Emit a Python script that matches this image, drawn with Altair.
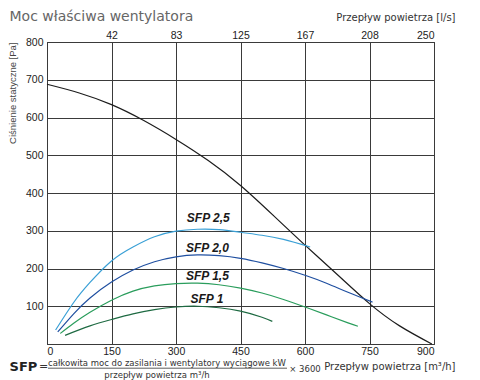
import altair as alt
import pandas as pd

# ---- data ----
x_ticks = [0, 150, 300, 450, 600, 750, 900]           # m3/h
ls_tick_labels = ["", "42", "83", "125", "167", "208", "250"]  # l/s
y_ticks = [100, 200, 300, 400, 500, 600, 700, 800]

fan_q = [0, 75, 150, 225, 300, 375, 450, 525, 600, 675, 750, 820, 895]
fan_p = [688, 665, 634, 592, 542, 486, 420, 342, 262, 184, 107, 48, 0]

sfp25_q = [20, 62, 100, 150, 200, 250, 300, 350, 400, 450, 500, 550, 612]
sfp25_p = [37, 110, 163, 220, 257, 284, 299, 304, 303, 296, 288, 277, 257]

sfp20_q = [25, 62, 100, 150, 200, 250, 300, 350, 400, 450, 500, 550, 600, 650, 700, 757]
sfp20_p = [32, 80, 122, 164, 196, 218, 231, 236, 234, 227, 215, 200, 182, 161, 137, 111]

sfp15_q = [31, 62, 100, 150, 200, 250, 300, 350, 400, 450, 500, 550, 600, 650, 700, 723]
sfp15_p = [28, 55, 84, 116, 140, 154, 160, 161, 157, 148, 135, 118, 98, 77, 56, 47]

sfp10_q = [42, 100, 150, 200, 250, 300, 350, 400, 450, 500, 524]
sfp10_p = [23, 48, 65, 80, 91, 98, 100, 96, 87, 71, 60]

series_names = ["fan", "SFP 2,5", "SFP 2,0", "SFP 1,5", "SFP 1"]
series_colors = ["#1c1c1c", "#3aa0d6", "#1f4fa0", "#2a9d5c", "#1e6a42"]

label_text = ["SFP 2,5", "SFP 2,0", "SFP 1,5", "SFP 1"]
label_q = [375, 373, 373, 372]
label_p = [335, 253, 180, 120]

# ---- tables ----
rows = []
for name, qs, ps in [("fan", fan_q, fan_p), ("SFP 2,5", sfp25_q, sfp25_p),
                     ("SFP 2,0", sfp20_q, sfp20_p), ("SFP 1,5", sfp15_q, sfp15_p),
                     ("SFP 1", sfp10_q, sfp10_p)]:
    for q, p in zip(qs, ps):
        rows.append({"series": name, "q": q, "p": p})
df = pd.DataFrame(rows)
labels_df = pd.DataFrame({"text": label_text, "q": label_q, "p": label_p})
one = pd.DataFrame({"a": [0]})

xscale = alt.Scale(domain=[0, 900], nice=False, zero=True)
yscale = alt.Scale(domain=[0, 800], nice=False)

grid_col = "#3a3a3a"

label_arr = "[" + ",".join("'%s'" % s for s in ls_tick_labels) + "]"
pos_arr = "[" + ",".join(str(v) for v in x_ticks) + "]"

y_enc = alt.Y("p:Q", scale=yscale,
              axis=alt.Axis(values=y_ticks, grid=True, title="Ciśnienie statyczne [Pa]",
                            titleFont="Liberation Sans", titleFontSize=9.5, titleFontWeight="normal",
                            titleColor="#444", titleAngle=-90, titleAlign="right",
                            titleBaseline="middle", titleX=-35, titleY=0,
                            labelPadding=4))

lines = alt.Chart(df).mark_line(interpolate="natural", strokeWidth=1.2).encode(
    x=alt.X("q:Q", scale=xscale,
            axis=alt.Axis(values=x_ticks, grid=True, orient="bottom",
                          title="Przepływ powietrza  [m³/h]",
                          titleFont="DejaVu Sans", titleFontSize=10, titleFontWeight="normal",
                          titleColor="#333", titleAnchor="end", titleAlign="right",
                          titleBaseline="middle", titleX=408, titleY=22,
                          labelPadding=2)),
    y=y_enc,
    color=alt.Color("series:N", scale=alt.Scale(domain=series_names, range=series_colors),
                    legend=None),
)

top_axis = alt.Chart(df).mark_point(opacity=0).encode(
    x=alt.X("q:Q", scale=xscale,
            axis=alt.Axis(values=x_ticks, grid=False, orient="top",
                          labelExpr=label_arr + "[indexof(" + pos_arr + ", datum.value)]",
                          title="Przepływ powietrza  [l/s]",
                          titleFont="DejaVu Sans", titleFontSize=10, titleFontWeight="normal",
                          titleColor="#333", titleAnchor="end", titleAlign="right",
                          titleBaseline="middle", titleX=408, titleY=-25,
                          labelPadding=2)),
    y=y_enc,
)

sfp_labels = alt.Chart(labels_df).mark_text(
    font="Liberation Sans", fontSize=12, fontWeight="bold", fontStyle="italic",
    color="#1a1a1a", align="center", baseline="middle"
).encode(
    x=alt.X("q:Q", scale=xscale, axis=None),
    y=y_enc,
    text="text:N",
)

def note(txt, x, y, size, font="DejaVu Sans", weight="normal", align="center",
         baseline="middle", color="#333"):
    return alt.Chart(one).mark_text(
        text=txt, font=font, fontSize=size, fontWeight=weight, align=align,
        baseline=baseline, color=color
    ).encode(x=alt.value(x), y=alt.value(y))

title = note("Moc właściwa wentylatora", -37.5, -21.5, 14, align="left",
             baseline="alphabetic", color="#666")
sfp = note("SFP", -23.5, 325, 13, weight="bold", color="#222")
eq = note("=", -3.5, 325, 11, color="#333")
numer = note("całkowita moc do zasilania i wentylatory wyciągowe kW", 120, 321, 8.5)
denom = note("przepływ powietrza m³/h", 110, 333, 8.5)
times = note("× 3600", 258, 327, 8.5)
bar = alt.Chart(one).mark_rule(color="#333", strokeWidth=0.8).encode(
    x=alt.value(1), x2=alt.value(240), y=alt.value(326.2))

chart = alt.layer(
    lines, top_axis, sfp_labels, title, sfp, eq, numer, denom, times, bar
).resolve_scale(x="shared", y="shared").resolve_axis(x="independent").properties(
    width=387, height=302,
    autosize=alt.AutoSizeParams(type="none"),
    padding={"left": 39, "top": 34, "right": 30, "bottom": 40},
).configure_axis(
    labelFont="Liberation Sans", labelFontSize=10.5, labelColor="#222",
    gridColor=grid_col, gridWidth=1, gridOpacity=1,
    domainColor=grid_col, ticks=False,
).configure_view(stroke=grid_col, strokeWidth=1)

chart.save("out.html", embed_options={"renderer": "svg", "actions": False})
